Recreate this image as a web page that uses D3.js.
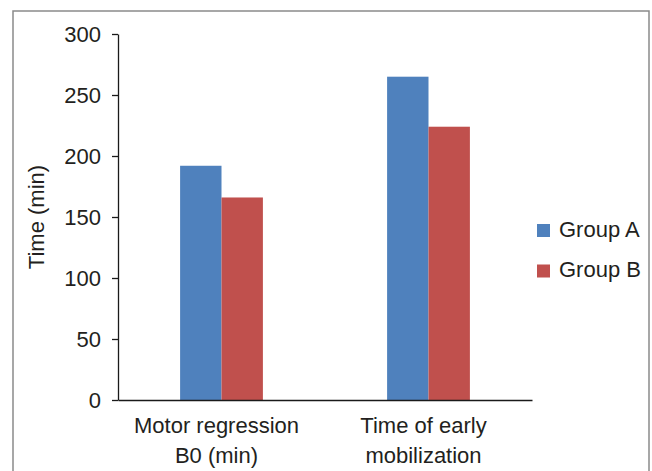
<!DOCTYPE html>
<html><head><meta charset="utf-8">
<script src="https://cdn.jsdelivr.net/npm/d3@7"></script>
<style>
body{margin:0;background:#fff;}
svg{display:block;font-family:"Liberation Sans",Arial,sans-serif;}
</style>
</head><body>
<svg id="c" width="652" height="471"></svg>
<script>
// ---- data ----
const categories = ["Motor regression\nB0 (min)", "Time of early\nmobilization"];
const seriesNames = ["Group A", "Group B"];
const groupA = [192, 265];
const groupB = [166, 224];
const seriesColors = ["#4F81BD", "#C0504D"];
const yTicks = [0, 50, 100, 150, 200, 250, 300];
const yTitle = "Time (min)";

(function () {
const FS = 22;
const values = [groupA, groupB];
const rows = categories.map((c, i) => ({cat: c, vals: seriesNames.map((s, j) => ({series: s, value: values[j][i], idx: j}))}));

const svg = d3.select("#c");
const mLeft = 118, mRight = 532, mTop = 34, mBottom = 400;

// border
svg.append("rect").attr("x", 13).attr("y", 11).attr("width", 636).attr("height", 480)
  .attr("fill", "none").attr("stroke", "#8a8a8a").attr("stroke-width", 1.5);

const x0 = d3.scaleBand().domain(categories).range([mLeft, mRight]).paddingInner(0.6).paddingOuter(0.3);
const x1 = d3.scaleBand().domain(seriesNames).range([0, x0.bandwidth()]);
const y = d3.scaleLinear().domain([0, 300]).range([mBottom, mTop]);

// bars
const g = svg.append("g");
g.selectAll("g.cat").data(rows).join("g").attr("class", "cat")
  .attr("transform", d => `translate(${x0(d.cat)},0)`)
  .selectAll("rect").data(d => d.vals).join("rect")
  .attr("x", d => x1(d.series))
  .attr("y", d => y(d.value))
  .attr("width", x1.bandwidth())
  .attr("height", d => y(0) - y(d.value))
  .attr("fill", d => seriesColors[d.idx]);

// y axis
const yAxis = svg.append("g").attr("transform", `translate(${mLeft},0)`)
  .call(d3.axisLeft(y).tickValues(yTicks).tickSize(6).tickSizeOuter(0).tickPadding(11));
yAxis.select(".domain").attr("stroke", "#1a1a1a").attr("stroke-width", 1.3);
yAxis.selectAll(".tick line").attr("stroke", "#1a1a1a").attr("stroke-width", 1.3);
yAxis.selectAll(".tick text").attr("font-size", FS).attr("fill", "#231f20")
  .attr("font-family", "'Liberation Sans',Arial,sans-serif");

// x axis
const xAxis = svg.append("g").attr("transform", `translate(0,${mBottom})`)
  .call(d3.axisBottom(x0).tickSize(0).tickSizeOuter(0).tickPadding(0));
xAxis.select(".domain").attr("stroke", "#1a1a1a").attr("stroke-width", 1.3);
xAxis.selectAll(".tick text").each(function(d) {
  const t = d3.select(this);
  t.text(null).attr("font-size", FS).attr("fill", "#231f20").attr("y", 0).attr("dy", null)
    .attr("font-family", "'Liberation Sans',Arial,sans-serif");
  d.split("\n").forEach((line, i) => {
    t.append("tspan").attr("x", -5).attr("y", 33 + i * 30).text(line);
  });
});

// y title
svg.append("text").attr("transform", `translate(44,${(mTop + mBottom) / 2}) rotate(-90)`)
  .attr("text-anchor", "middle").attr("font-size", FS).attr("fill", "#231f20").text(yTitle);

// legend
const leg = svg.append("g").attr("transform", "translate(537,224)");
const li = leg.selectAll("g").data(seriesNames).join("g")
  .attr("transform", (d, i) => `translate(0,${i * 40.5})`);
li.append("rect").attr("width", 13).attr("height", 13).attr("fill", (d, i) => seriesColors[i]);
li.append("text").attr("x", 22).attr("y", 12.5).attr("font-size", FS).attr("fill", "#231f20").text(d => d);
})();
</script>
</body></html>
